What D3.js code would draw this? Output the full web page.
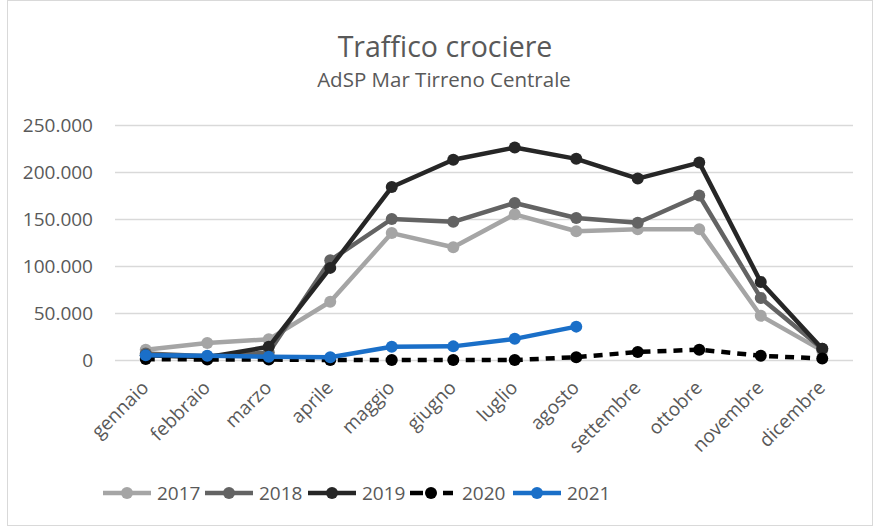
<!DOCTYPE html>
<html>
<head>
<meta charset="utf-8">
<script src="https://cdn.jsdelivr.net/npm/d3@7"></script>
<style>
  body { margin: 0; background: #fff; }
  svg text { font-family: "Open Sans", sans-serif; fill: #595959; }
</style>
</head>
<body>
<script>
// data
const months = ['gennaio', 'febbraio', 'marzo', 'aprile', 'maggio', 'giugno',
    'luglio', 'agosto', 'settembre', 'ottobre', 'novembre', 'dicembre'];
const years = ['2017', '2018', '2019', '2020', '2021'];
const v2017 = [11000, 18000, 22000, 62000, 135000, 120000, 155000, 137000, 139000, 139000, 47000, 10000];
const v2018 = [7000, 4000, 8000, 106000, 150000, 147000, 167000, 151000, 146000, 175000, 66000, 12000];
const v2019 = [5000, 3000, 14000, 98000, 184000, 213000, 226000, 214000, 193000, 210000, 83000, 12000];
const v2020 = [1000, 500, 500, 0, 0, 0, 0, 3000, 8500, 11000, 4500, 1500];
const v2021 = [5000, 4500, 3500, 3000, 14000, 14500, 22500, 35500];
const yTicks = [0, 50000, 100000, 150000, 200000, 250000];

const seriesValues = [v2017, v2018, v2019, v2020, v2021];
const colors = ['#a5a5a5', '#636363', '#262626', '#000000', '#1a6fc8'];
const dashes = [null, null, null, '9,7', null];

const W = 881, H = 527;
const svg = d3.select('body').append('svg')
    .attr('width', W)
    .attr('height', H);

// chart frame
svg.append('rect')
    .attr('x', 7.5).attr('y', 0.5)
    .attr('width', 865).attr('height', 525)
    .attr('fill', '#fff')
    .attr('stroke', '#d9d9d9');

const x = d3.scaleBand().domain(months).range([115, 853]);
const y = d3.scaleLinear().domain([0, 250000]).range([360, 125]);

// titles
svg.append('text')
    .attr('x', 445).attr('y', 57)
    .attr('text-anchor', 'middle')
    .style('font-size', '28.5px')
    .text('Traffico crociere');
svg.append('text')
    .attr('x', 444).attr('y', 87)
    .attr('text-anchor', 'middle')
    .style('font-size', '20.5px')
    .text('AdSP Mar Tirreno Centrale');

// gridlines + y labels
const yAxis = svg.append('g')
    .attr('transform', 'translate(115,0)')
    .call(d3.axisLeft(y).tickValues(yTicks)
        .tickSize(-(853 - 115))
        .tickPadding(22)
        .tickFormat(d => d3.format(',')(d).replace(/,/g, '.')));
yAxis.select('.domain').remove();
yAxis.selectAll('line').attr('stroke', '#d9d9d9').attr('stroke-width', 1.3);
yAxis.selectAll('text').style('font-size', '19px').attr('fill', '#595959');

// x labels
const xAxis = svg.append('g')
    .attr('transform', 'translate(0,360)')
    .call(d3.axisBottom(x).tickSize(0).tickPadding(0));
xAxis.select('.domain').remove();
xAxis.selectAll('text')
    .style('font-size', '19px')
    .attr('fill', '#595959')
    .attr('text-anchor', 'end')
    .attr('dy', 0)
    .attr('transform', 'translate(4,29) rotate(-45)');

const cx = (d, i) => x(months[i]) + x.bandwidth() / 2;
const line = d3.line().x(cx).y(d => y(d));

seriesValues.forEach((vals, k) => {
    const g = svg.append('g');
    g.append('path')
        .datum(vals)
        .attr('d', line)
        .attr('fill', 'none')
        .attr('stroke', colors[k])
        .attr('stroke-width', 4.5)
        .attr('stroke-linejoin', 'round')
        .attr('stroke-dasharray', dashes[k]);
    g.selectAll('circle')
        .data(vals)
        .enter().append('circle')
        .attr('cx', cx)
        .attr('cy', d => y(d))
        .attr('r', 6)
        .attr('fill', colors[k]);
});

// legend
const legendX = [103, 205, 308, 410, 513];
const legend = svg.append('g');
years.forEach((yr, k) => {
    const lg = legend.append('g').attr('transform', 'translate(' + legendX[k] + ',493)');
    lg.append('line')
        .attr('x1', 0).attr('x2', k === 3 ? 43 : 48)
        .attr('stroke', colors[k])
        .attr('stroke-width', 4.5)
        .attr('stroke-dasharray', k === 3 ? '13,20' : null);
    lg.append('circle')
        .attr('cx', k === 3 ? 21 : 24).attr('r', 6)
        .attr('fill', colors[k]);
    lg.append('text')
        .attr('x', k === 3 ? 52 : 54).attr('y', 7)
        .style('font-size', '19px')
        .text(yr);
});
</script>
</body>
</html>
